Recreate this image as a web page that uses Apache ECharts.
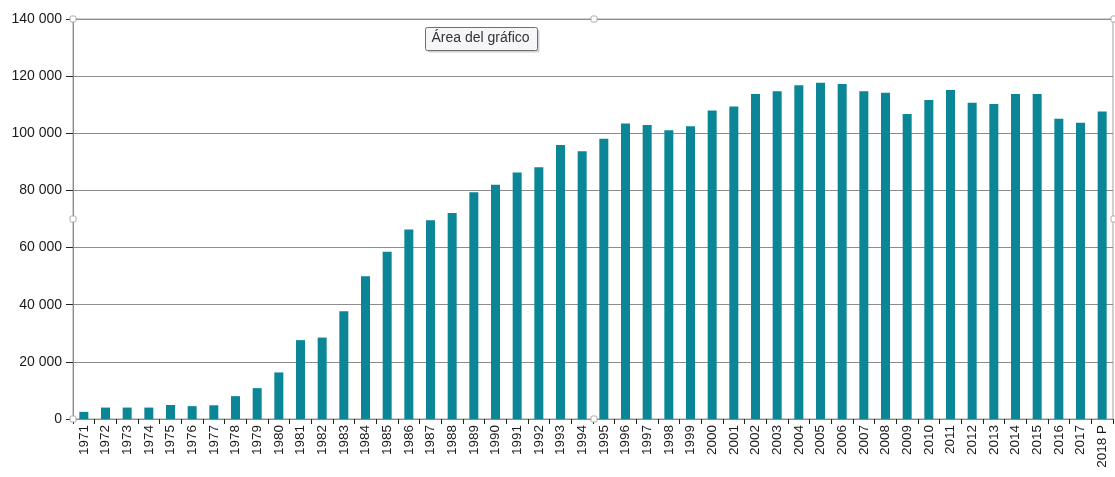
<!DOCTYPE html>
<html>
<head>
<meta charset="utf-8">
<script src="https://cdn.jsdelivr.net/npm/echarts@6/dist/echarts.min.js"></script>
<style>
html,body{margin:0;padding:0;background:#fff;}
#c{width:1115px;height:477px;}
</style>
</head>
<body>
<div id="c"></div>
<script>
const categories = ['1971','1972','1973','1974','1975','1976','1977','1978','1979','1980',
'1981','1982','1983','1984','1985','1986','1987','1988','1989','1990',
'1991','1992','1993','1994','1995','1996','1997','1998','1999','2000',
'2001','2002','2003','2004','2005','2006','2007','2008','2009','2010',
'2011','2012','2013','2014','2015','2016','2017','2018 P'];
const values = [2500,4000,4000,4000,4900,4500,4800,8000,10800,16300,
27600,28500,37700,50000,58500,66300,69600,72100,79400,82000,
86300,88100,95900,93700,98100,103400,102900,101100,102500,108000,
109400,113750,114700,116800,117700,117250,114700,114200,106750,111650,
115150,110700,110250,113750,113750,105100,103700,107650];
const yTicks = {min:0, max:140000, interval:20000};
const tooltipText = 'Área del gráfico';

const chart = echarts.init(document.getElementById('c'), null, {renderer:'canvas'});
function fmt(v){ return String(v).replace(/\B(?=(\d{3})+(?!\d))/g,' '); }
function handle(x,y){
  return {type:'rect', shape:{x:x-3,y:y-3,width:6,height:6,r:1.5},
    style:{fill:'#fff',stroke:'#a8a8a8',lineWidth:1}, z:100};
}
chart.setOption({
  animation:false,
  backgroundColor:'#fff',
  grid:{left:73,right:2,top:19,bottom:58,containLabel:false,show:true,borderColor:'#a0a0a0',borderWidth:1,backgroundColor:'transparent'},
  xAxis:{
    type:'category', data:categories,
    axisLine:{show:true,lineStyle:{color:'#8c8c8c',width:1}},
    axisTick:{show:true,interval:0,length:5,lineStyle:{color:'#222'}},
    axisLabel:{interval:0,rotate:90,fontFamily:'Liberation Sans, Arial',fontSize:13.5,color:'#1a1a1a',margin:6}
  },
  yAxis:{
    type:'value', min:yTicks.min, max:yTicks.max, interval:yTicks.interval,
    axisLine:{show:true,lineStyle:{color:'#8c8c8c',width:1}},
    axisTick:{show:true,length:7,lineStyle:{color:'#222'}},
    axisLabel:{formatter:fmt,fontFamily:'Liberation Sans, Arial',fontSize:14,color:'#1a1a1a',margin:11},
    splitLine:{show:true,lineStyle:{color:'#8c8c8c',width:1}}
  },
  series:[{
    type:'bar', data:values, barWidth:9,
    itemStyle:{color:'#0b8697'}
  }],
  graphic:[
    {type:'group', left:425, top:27, z:100, children:[
      {type:'rect', shape:{x:2,y:2,width:112,height:23,r:2}, style:{fill:'rgba(0,0,0,0.18)'}},
      {type:'rect', shape:{x:0,y:0,width:112,height:23,r:2}, style:{fill:'#f6f6f9',stroke:'#6e6e6e',lineWidth:1}},
      {type:'text', x:6, y:4, style:{text:tooltipText, font:'14px "Liberation Sans", Arial', fill:'#333'}}
    ]},
    handle(73,19), handle(594,19), handle(1114,19),
    handle(73,219), handle(1114,219),
    handle(73,419), handle(594,419)
  ]
});
</script>
</body>
</html>
